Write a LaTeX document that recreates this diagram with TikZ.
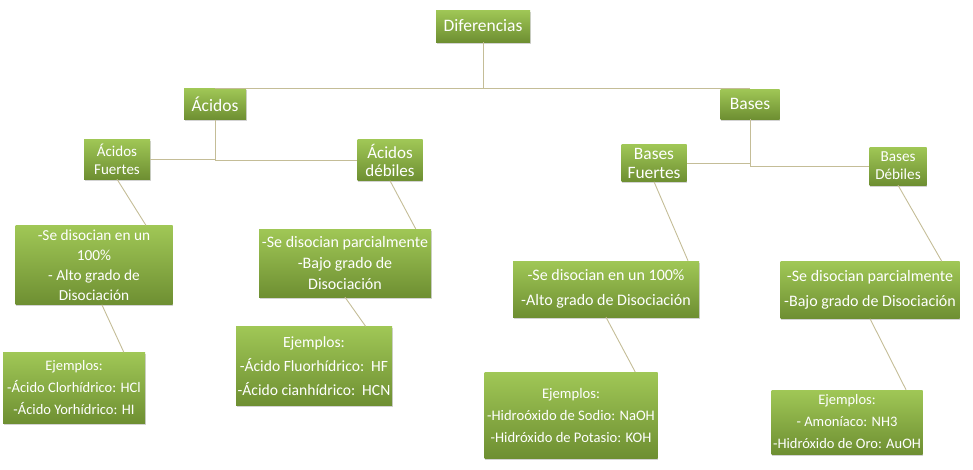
\documentclass[tikz,border=0pt]{standalone}
\usepackage{fontspec}
\setmainfont{Carlito}
\usetikzlibrary{calc,shadows}
\definecolor{boxtop}{RGB}{160,199,86}
\definecolor{boxbot}{RGB}{110,143,50}
\definecolor{linkc}{RGB}{196,189,151}
\begin{document}
\begin{tikzpicture}[
  x=1pt, y=-1pt,
  box/.style={top color=boxtop, bottom color=boxbot, text=white, align=center, inner sep=0pt,
    drop shadow={shadow xshift=0.6pt, shadow yshift=-1.8pt, opacity=0.35}},
  fsz/.style 2 args={font=\fontsize{#1}{#2}\selectfont},
  link/.style={draw=linkc, line width=0.9pt}
]
\useasboundingbox (0,0) rectangle (973,469);
% top levels
\node[box, fsz={17.5}{20}, minimum width=94, minimum height=32] (dif) at (483,26) {Diferencias};
\node[box, fsz={17.5}{20}, minimum width=62, minimum height=31] (ac) at (215,104) {Ácidos};
\node[box, fsz={17.5}{20}, minimum width=59, minimum height=30] (ba) at (750,104) {Bases};
\node[box, fsz={15}{18}, minimum width=66, minimum height=40] (af) at (117,159) {Ácidos\\Fuertes};
\node[box, fsz={17}{18}, minimum width=65, minimum height=41] (ad) at (390,160) {Ácidos\\débiles};
\node[box, fsz={17.4}{19}, minimum width=65, minimum height=37] (bf) at (654,163) {Bases\\Fuertes};
\node[box, fsz={15.2}{18}, minimum width=57, minimum height=38] (bd) at (898,166) {Bases\\Débiles};
% descriptions
\node[box, fsz={15.3}{20}, minimum width=157, minimum height=79] (afd) at (94,265) {-Se disocian en un\\100\%\\- Alto grado de\\Disociación};
\node[box, fsz={16}{21}, minimum width=172, minimum height=68] (add) at (345,263) {-Se disocian parcialmente\\-Bajo grado de\\Disociación};
\node[box, fsz={16}{25}, minimum width=186, minimum height=56] (bfd) at (606,289) {-Se disocian en un 100\%\\-Alto grado de Disociación};
\node[box, fsz={16}{25}, minimum width=179, minimum height=57] (bdd) at (870,290) {-Se disocian parcialmente\\-Bajo grado de Disociación};
% examples
\node[box, fsz={14.5}{22}, minimum width=142, minimum height=71] (afe) at (74,388) {Ejemplos:\\-Ácido Clorhídrico: HCl\\-Ácido Yorhídrico: HI};
\node[box, fsz={15.6}{24}, minimum width=156, minimum height=79] (ade) at (314,366) {Ejemplos:\\-Ácido Fluorhídrico:\ \ HF\\-Ácido cianhídrico:\ \ HCN};
\node[box, fsz={14.6}{22}, minimum width=173, minimum height=86] (bfe) at (571,415) {Ejemplos:\\-Hidroóxido de Sodio: NaOH\\-Hidróxido de Potasio: KOH};
\node[box, fsz={14.5}{22}, minimum width=151, minimum height=64] (bde) at (847,422) {Ejemplos:\\- Amoníaco: NH3\\-Hidróxido de Oro: AuOH};
% connectors
\draw[link] (dif.south) |- (ac.north);
\draw[link] (dif.south) |- (ba.north);
\draw[link] (ac.south) |- (af.east);
\draw[link] (ac.south) |- (ad.west);
\draw[link] (ba.south) |- (bf.east);
\draw[link] (ba.south) |- (bd.west);
\draw[link] (af.south) -- ($(afd.north west)!0.83!(afd.north east)$);
\draw[link] ($(afd.south west)!0.55!(afd.south east)$) -- ($(afe.north west)!0.85!(afe.north east)$);
\draw[link] (ad.south) -- ($(add.north west)!0.91!(add.north east)$);
\draw[link] (add.south) -- ($(ade.north west)!0.83!(ade.north east)$);
\draw[link] (bf.south) -- ($(bfd.north west)!0.94!(bfd.north east)$);
\draw[link] (bfd.south) -- ($(bfe.north west)!0.87!(bfe.north east)$);
\draw[link] (bd.south) -- ($(bdd.north west)!0.9!(bdd.north east)$);
\draw[link] (bdd.south) -- ($(bde.north west)!0.89!(bde.north east)$);
\end{tikzpicture}
\end{document}
